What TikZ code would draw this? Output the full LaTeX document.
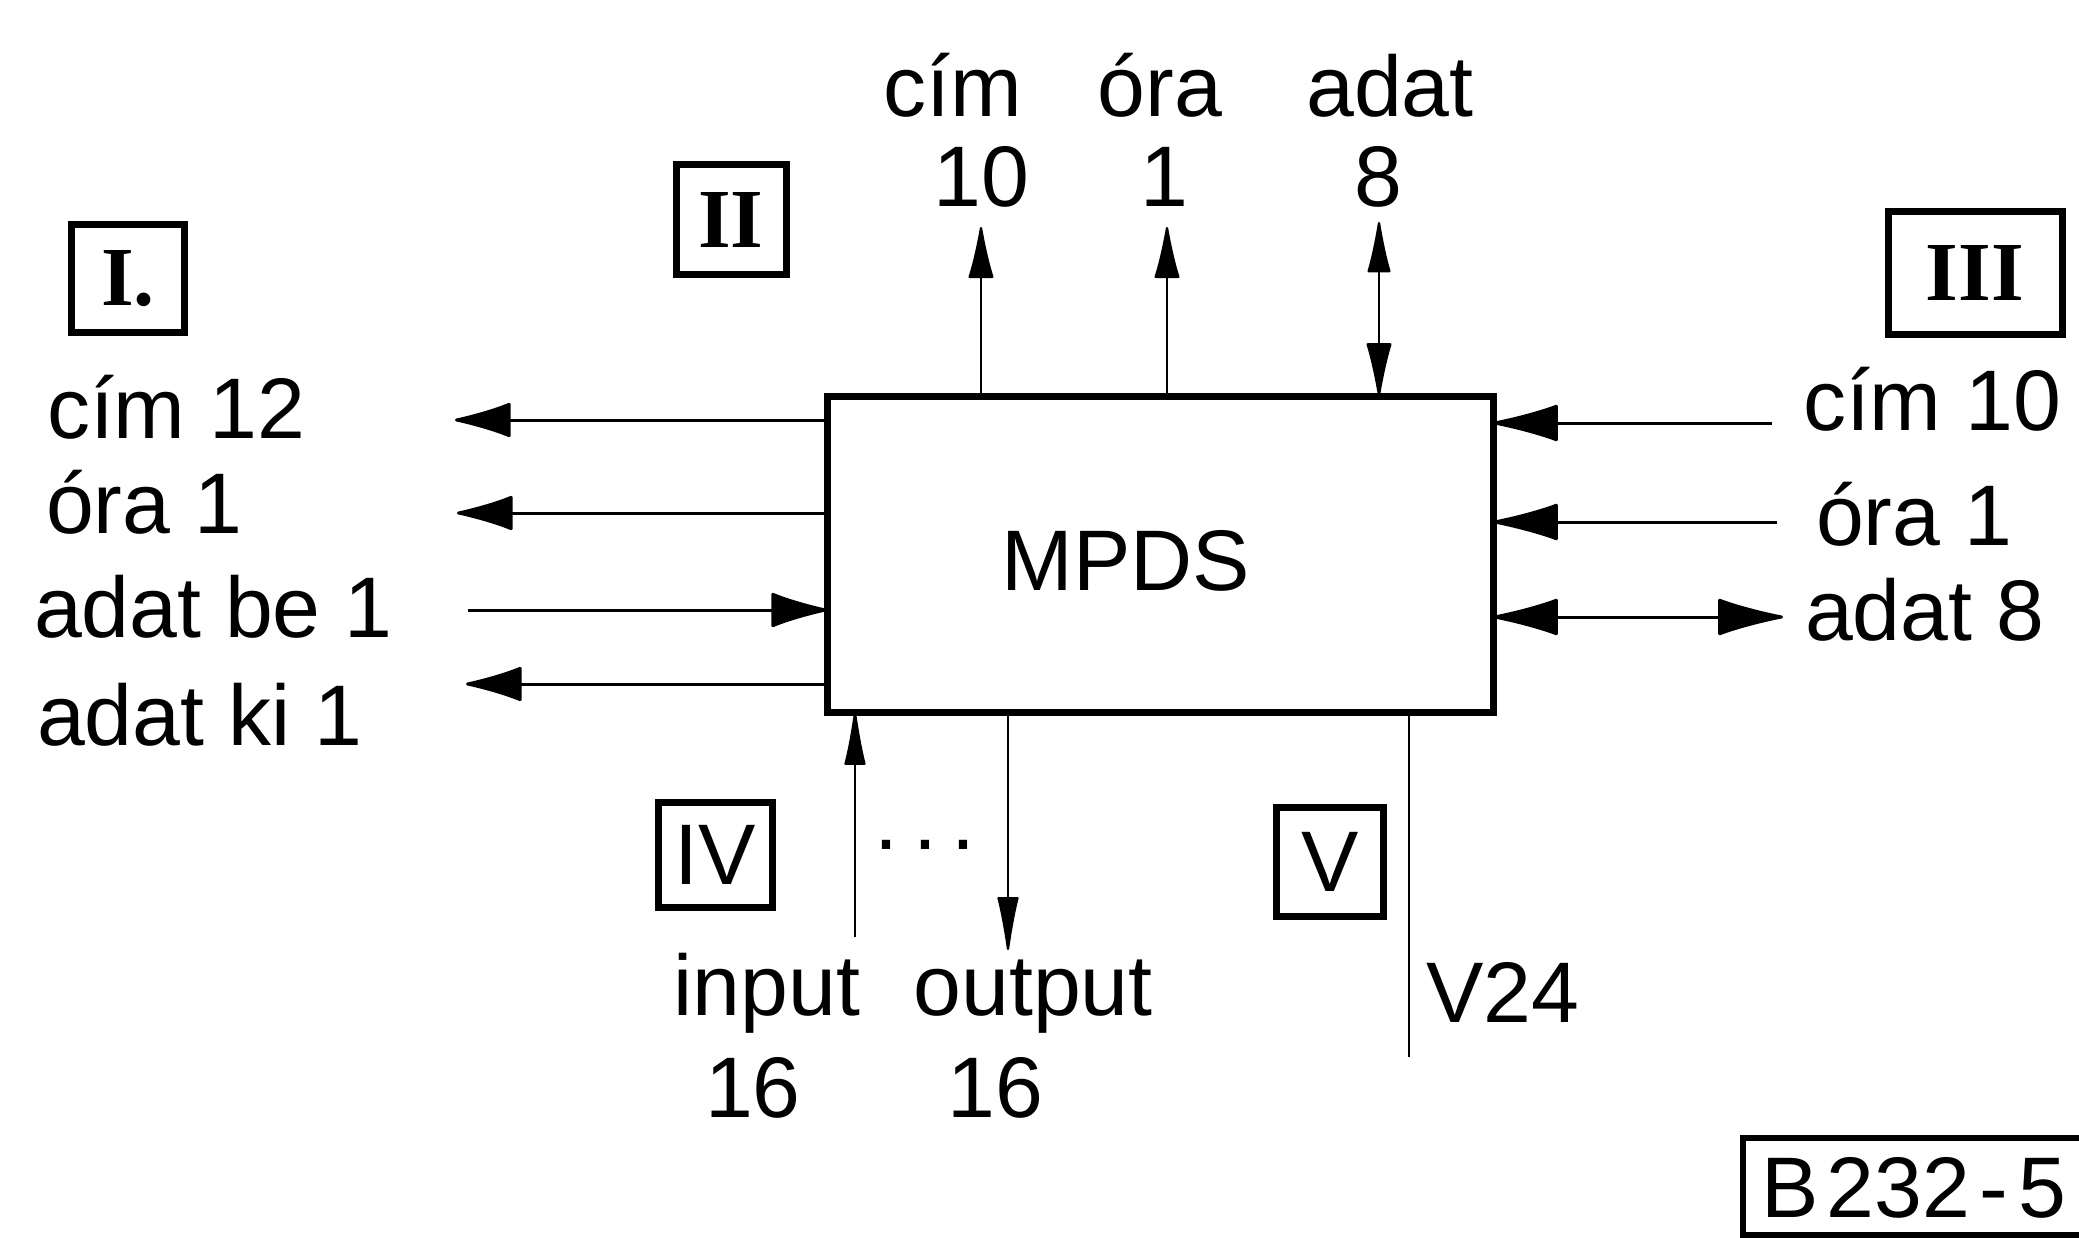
\documentclass[tikz,border=0pt]{standalone}
\usepackage{fontspec}
\setmainfont{Liberation Sans}
\newfontfamily\romfont{Liberation Serif}
\usetikzlibrary{arrows.meta}
\begin{document}
\begin{tikzpicture}[x=1pt,y=-1pt,
  txt/.style={inner sep=0pt, outer sep=0pt, font=\fontsize{86pt}{90pt}\selectfont},
  lw/.style={anchor=base west},
  cb/.style={anchor=base},
  rbox/.style={draw, line width=7pt, inner sep=0pt, outer sep=0pt},
  rom/.style={font=\romfont\bfseries\fontsize{84pt}{90pt}\selectfont},
  thinln/.style={line width=3pt},
  hairln/.style={line width=2.4pt},
  arrL/.style={-{Latex[length=62pt,width=36pt,round]}},
  arrR/.style={-{Latex[length=72pt,width=38pt,round]}},
  arrLL/.style={{Latex[length=72pt,width=38pt,round]}-{Latex[length=72pt,width=38pt,round]}},
  arrT/.style={-{Latex[length=58pt,width=26pt,round]}},
  arrTT/.style={{Latex[length=58pt,width=24pt,round]}-{Latex[length=60pt,width=26pt,round]}},
  arrB/.style={-{Latex[length=62pt,width=22pt,round]}}
]
\useasboundingbox (0,0) rectangle (2079,1238);
\clip (0,0) rectangle (2079,1238);

% main block
\node[draw, line width=7pt, minimum width=666pt, minimum height=316pt, inner sep=0pt, outer sep=0pt] (mpds) at (1160,554) {};
\node[txt, cb] (mpdsl) at (1126,590) {MPDS};

% top connectors
\coordinate (tc) at (981,227);
\coordinate (to) at (1167,227);
\coordinate (ta) at (1379,222);
\draw[hairln, arrT] (mpds.north -| tc) -- (tc);
\draw[hairln, arrT] (mpds.north -| to) -- (to);
\draw[hairln, arrTT] (ta) -- (mpds.north -| ta);
\node[txt, cb] (lcim) at (953,117) {cím};
\node[txt, cb] (lora) at (1160,117) {óra};
\node[txt, cb] (ladat) at (1390,117) {adat};
\node[txt, cb] (n10) at (981,207) {10};
\node[txt, cb] (n1) at (1164,207) {1};
\node[txt, cb] (n8) at (1378,207) {8};

% left connectors
\coordinate (l1) at (455,420);
\coordinate (l2) at (457,513);
\coordinate (l3) at (468,610);
\coordinate (l4) at (466,684);
\draw[thinln, arrL] (mpds.west |- l1) -- (l1);
\draw[thinln, arrL] (mpds.west |- l2) -- (l2);
\draw[thinln, arrL] (l3) -- (mpds.west |- l3);
\draw[thinln, arrL] (mpds.west |- l4) -- (l4);
\node[txt, lw] (lc12) at (47,438) {cím 12};
\node[txt, lw] (lo1) at (46,533) {óra 1};
\node[txt, lw] (lab1) at (34,637) {adat be 1};
\node[txt, lw] (lak1) at (37,745) {adat ki 1};

% right connectors
\coordinate (r1) at (1772,423);
\coordinate (r2) at (1777,522);
\coordinate (r3) at (1783,617);
\draw[thinln, arrR] (r1) -- (mpds.east |- r1);
\draw[thinln, arrR] (r2) -- (mpds.east |- r2);
\draw[thinln, arrLL] (mpds.east |- r3) -- (r3);
\node[txt, lw] (rc10) at (1803,430) {cím 10};
\node[txt, lw] (ro1) at (1816,545) {óra 1};
\node[txt, lw] (ra8) at (1805,640) {adat 8};

% bottom connectors
\coordinate (bi) at (855,937);
\coordinate (bo) at (1008,950);
\coordinate (bv) at (1409,1057);
\draw[hairln, arrB] (bi) -- (mpds.south -| bi);
\draw[hairln, arrB] (mpds.south -| bo) -- (bo);
\draw[hairln] (mpds.south -| bv) -- (bv);
\node[txt, cb] (dots) at (925,849) {.\hspace{15pt}.\hspace{15pt}.};
\node[txt, cb] (linp) at (767,1015) {input};
\node[txt, cb] (lout) at (1033,1015) {output};
\node[txt, cb] (n16a) at (753,1117) {16};
\node[txt, cb] (n16b) at (995,1117) {16};
\node[txt, lw] (lv24) at (1426,1022) {V24};

% group labels
\node[rbox, rom, minimum width=113pt, minimum height=108pt] (bI) at (128,279) {I.};
\node[rbox, rom, minimum width=110pt, minimum height=110pt] (bII) at (731,220) {II};
\node[rbox, rom, minimum width=174pt, minimum height=123pt] (bIII) at (1975,273) {III};
\node[rbox, txt, minimum width=114pt, minimum height=105pt] (bIV) at (715,855) {IV};
\node[rbox, txt, minimum width=107pt, minimum height=109pt] (bV) at (1330,862) {V};

% reference mark
\node[rbox, line width=6pt, anchor=north west, minimum width=380pt, minimum height=97pt] (bref) at (1743,1138) {};
\node[txt, lw] (tref) at (1761,1217) {B\hspace{8pt}232\hspace{10pt}-\hspace{10pt}5};
\end{tikzpicture}
\end{document}
